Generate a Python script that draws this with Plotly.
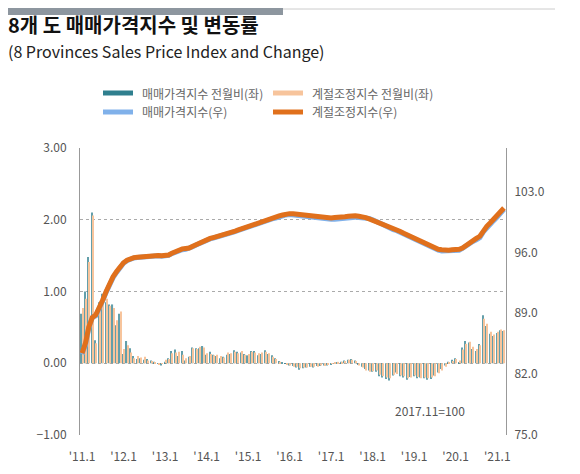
import pandas as pd
import plotly.graph_objects as go

# 2011.1 ~ 2021.3, monthly
# 매매가격지수 전월비 (%, left axis)
mom_change = [
    0.69, 1.00, 1.48, 2.10, 0.32, 0.85, 0.97, 0.85, 0.82, 0.82, 0.53, 0.69,
    0.13, 0.31, 0.21, 0.10, 0.06, 0.07, 0.05, 0.06, 0.04, 0.02, -0.01, -0.03,
    0.02, 0.07, 0.17, 0.19, 0.10, 0.17, 0.04, 0.09, 0.22, 0.21, 0.21, 0.24,
    0.12, 0.16, 0.12, 0.10, 0.07, 0.09, 0.12, 0.13, 0.18, 0.16, 0.15, 0.13,
    0.11, 0.17, 0.17, 0.11, 0.13, 0.18, 0.13, 0.11, 0.07, 0.03, 0.01, -0.01,
    -0.03, -0.04, -0.06, -0.09, -0.07, -0.06, -0.05, -0.06, -0.04, -0.04, -0.03, -0.03,
    -0.02, 0.00, 0.01, 0.02, 0.04, 0.05, 0.06, 0.04, -0.02, -0.05, -0.08, -0.10,
    -0.12, -0.12, -0.18, -0.20, -0.22, -0.24, -0.17, -0.13, -0.18, -0.20, -0.23, -0.19,
    -0.18, -0.21, -0.20, -0.21, -0.23, -0.22, -0.17, -0.13, -0.08, -0.03, 0.02, 0.05,
    0.07, 0.01, 0.22, 0.31, 0.29, 0.20, 0.17, 0.27, 0.67, 0.52, 0.41, 0.38,
    0.42, 0.46, 0.45,
]

# 계절조정지수 전월비 (%, left axis)
sa_mom_change = [
    0.77, 0.90, 1.41, 2.06, 0.28, 0.81, 0.95, 0.90, 0.80, 0.77, 0.60, 0.72,
    0.20, 0.25, 0.15, 0.07, 0.10, 0.08, 0.09, 0.04, 0.03, 0.01, -0.02, -0.01,
    0.05, 0.06, 0.14, 0.15, 0.16, 0.12, 0.07, 0.10, 0.21, 0.20, 0.23, 0.22,
    0.14, 0.13, 0.11, 0.12, 0.10, 0.08, 0.15, 0.14, 0.16, 0.14, 0.17, 0.12,
    0.13, 0.16, 0.15, 0.14, 0.15, 0.16, 0.14, 0.09, 0.06, 0.02, 0.00, -0.02,
    -0.03, -0.05, -0.05, -0.07, -0.06, -0.06, -0.05, -0.05, -0.05, -0.03, -0.04, -0.02,
    -0.01, 0.01, 0.02, 0.02, 0.03, 0.05, 0.05, 0.03, -0.03, -0.06, -0.10, -0.12,
    -0.11, -0.10, -0.16, -0.18, -0.20, -0.21, -0.16, -0.15, -0.17, -0.18, -0.21, -0.20,
    -0.17, -0.19, -0.21, -0.20, -0.21, -0.20, -0.18, -0.14, -0.10, -0.05, 0.01, 0.03,
    0.06, 0.04, 0.19, 0.27, 0.30, 0.23, 0.20, 0.25, 0.62, 0.55, 0.44, 0.40,
    0.44, 0.47, 0.46,
]

# 매매가격지수 (2017.11=100, right axis)
price_index = [
    84.3, 85.4, 87.3, 88.5, 88.7, 89.5, 90.4, 91.4, 92.3, 93.1, 93.7, 94.3,
    94.75, 95.05, 95.25, 95.35, 95.4, 95.45, 95.5, 95.55, 95.55, 95.6, 95.6, 95.55,
    95.55, 95.65, 95.85, 96.05, 96.15, 96.3, 96.35, 96.45, 96.65, 96.85, 97.05, 97.3,
    97.4, 97.55, 97.65, 97.75, 97.85, 97.95, 98.05, 98.2, 98.35, 98.5, 98.65, 98.8,
    98.9, 99.05, 99.2, 99.3, 99.4, 99.55, 99.7, 99.85, 99.95, 100.1, 100.2, 100.3,
    100.35, 100.3, 100.25, 100.15, 100.1, 100.05, 100.0, 99.95, 99.9, 99.85, 99.85, 99.85,
    99.8, 99.8, 99.85, 99.85, 99.9, 99.95, 100.0, 100.05, 100.0, 100.0, 100.0, 99.9,
    99.75, 99.6, 99.4, 99.2, 99.0, 98.75, 98.6, 98.5, 98.3, 98.1, 97.9, 97.7,
    97.5, 97.3, 97.1, 96.9, 96.7, 96.5, 96.35, 96.25, 96.15, 96.15, 96.15, 96.2,
    96.25, 96.25, 96.45, 96.75, 97.05, 97.25, 97.45, 97.7, 98.35, 98.85, 99.25, 99.65,
    100.05, 100.5, 100.95,
]

# 계절조정지수 (2017.11=100, right axis)
sa_index = [
    84.4, 85.6, 87.4, 88.5, 88.8, 89.6, 90.5, 91.5, 92.4, 93.2, 93.8, 94.4,
    94.8, 95.1, 95.3, 95.4, 95.45, 95.5, 95.55, 95.6, 95.6, 95.65, 95.65, 95.6,
    95.6, 95.7, 95.9, 96.1, 96.2, 96.4, 96.45, 96.5, 96.7, 96.9, 97.1, 97.3,
    97.45, 97.6, 97.7, 97.8, 97.9, 98.0, 98.1, 98.25, 98.4, 98.55, 98.7, 98.85,
    98.95, 99.05, 99.2, 99.3, 99.45, 99.6, 99.75, 99.9, 100.05, 100.2, 100.3, 100.4,
    100.45, 100.45, 100.4, 100.35, 100.3, 100.2, 100.15, 100.1, 100.05, 100.0, 99.95, 99.95,
    99.95, 100.0, 100.0, 100.05, 100.1, 100.15, 100.2, 100.2, 100.15, 100.1, 100.0, 99.85,
    99.7, 99.55, 99.35, 99.2, 99.05, 98.9, 98.75, 98.55, 98.4, 98.2, 98.0, 97.8,
    97.6, 97.45, 97.3, 97.1, 96.85, 96.6, 96.45, 96.35, 96.3, 96.25, 96.25, 96.3,
    96.3, 96.35, 96.5, 96.8, 97.15, 97.4, 97.6, 97.85, 98.5, 99.0, 99.4, 99.85,
    100.25, 100.65, 101.1,
]

tick_years = list(range(2011, 2022))
tick_text = [f"'{y % 100:02d}.1" for y in tick_years]

months = pd.date_range("2011-01-01", periods=len(sa_index), freq="MS")

FONT = "Noto Sans CJK KR"
TEAL = "#2f7f8e"
PEACH = "#f7c49c"
BLUE = "#80b1ea"
ORANGE = "#e0701c"

W, H = 580, 474
L, R, T, B = 72, 82, 140, 47
OFF = 8  # page body margin in the screenshot


# screen pixel -> paper coords (for the decorations only)
def px(x):
    return (x - OFF - L) / (W - L - R)


def py(y):
    return (H - B - (y - OFF)) / (H - T - B)


fig = go.Figure()

fig.add_trace(go.Bar(x=months, y=mom_change, name="매매가격지수 전월비(좌)",
                     marker=dict(color=TEAL, line_width=0), opacity=0.75))
fig.add_trace(go.Bar(x=months, y=sa_mom_change, name="계절조정지수 전월비(좌)",
                     marker=dict(color=PEACH, line_width=0)))
fig.add_trace(go.Scatter(x=months, y=price_index, name="매매가격지수(우)", yaxis="y2",
                         mode="lines", line=dict(color=BLUE, width=5)))
fig.add_trace(go.Scatter(x=months, y=sa_index, name="계절조정지수(우)", yaxis="y2",
                         mode="lines", line=dict(color=ORANGE, width=5)))

fig.update_layout(
    width=W, height=H,
    margin=dict(l=L, r=R, t=T, b=B),
    paper_bgcolor="white", plot_bgcolor="white",
    font=dict(family=FONT, color="#555", size=12),
    showlegend=False,
    barmode="group", bargap=0.3, bargroupgap=0,
    xaxis=dict(
        type="date",
        range=["2010-12-14", "2021-03-19"],
        tickvals=[f"{y}-01-01" for y in tick_years],
        ticktext=tick_text,
        showgrid=False, showline=False, zeroline=False, ticks="",
        ticklabelstandoff=13,
        tickfont=dict(size=12, color="#555"),
    ),
    yaxis=dict(
        range=[-1, 3],
        tickvals=[-1, 0, 1, 2, 3],
        tickformat=".2f",
        showgrid=True, gridcolor="#aaa", griddash="dot", gridwidth=1,
        showline=True, linecolor="#999", linewidth=1,
        zeroline=False, ticks="", ticklabelstandoff=10,
        tickfont=dict(size=12, color="#555"),
    ),
    yaxis2=dict(
        overlaying="y", side="right",
        range=[75, 108],
        tickvals=[75, 82, 89, 96, 103],
        tickformat=".1f",
        showgrid=False, showline=True, linecolor="#999", linewidth=1,
        zeroline=False, ticks="", ticklabelstandoff=5,
        tickfont=dict(size=12, color="#555"),
    ),
)

# header bar
fig.add_shape(type="rect", xref="paper", yref="paper", line_width=0, fillcolor="#8d969f",
              x0=px(7), x1=px(283), y0=py(15), y1=py(8))
fig.add_shape(type="line", xref="paper", yref="paper", line=dict(color="#ccc", width=1),
              x0=px(283), x1=px(555), y0=py(9), y1=py(9))

fig.add_annotation(xref="paper", yref="paper", x=px(6), y=py(25), xanchor="left", yanchor="middle",
                   text="<b>8개 도 매매가격지수 및 변동률</b>", showarrow=False,
                   font=dict(size=20, color="#111"))
fig.add_annotation(xref="paper", yref="paper", x=px(6), y=py(51), xanchor="left", yanchor="middle",
                   text="(8 Provinces Sales Price Index and Change)", showarrow=False,
                   font=dict(size=16, color="#222"))

# legend, drawn by hand as 2x2
legend_items = [
    ("매매가격지수 전월비(좌)", TEAL, 103, 93),
    ("계절조정지수 전월비(좌)", PEACH, 273, 93),
    ("매매가격지수(우)", BLUE, 103, 112),
    ("계절조정지수(우)", ORANGE, 273, 112),
]
for label, color, lx, ly in legend_items:
    fig.add_shape(type="rect", xref="paper", yref="paper", line_width=0, fillcolor=color,
                  x0=px(lx), x1=px(lx + 30), y0=py(ly + 2.5), y1=py(ly - 2.5))
    fig.add_annotation(xref="paper", yref="paper", x=px(lx + 37), y=py(ly),
                       xanchor="left", yanchor="middle", text=label, showarrow=False,
                       font=dict(size=12, color="#666"))

fig.add_annotation(xref="paper", yref="paper", x=px(430), y=py(421), xanchor="center",
                   text="2017.11=100", showarrow=False, font=dict(size=12, color="#555"))

fig.write_html("out.html")
